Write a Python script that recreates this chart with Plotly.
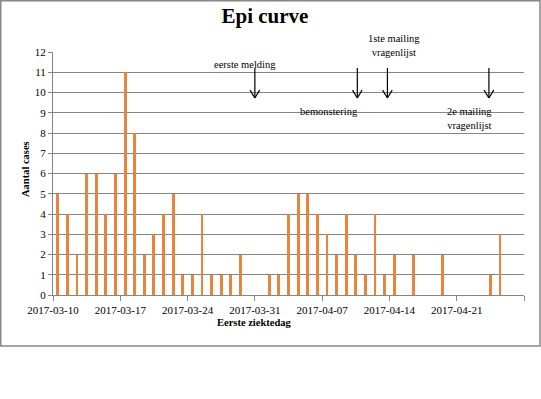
import plotly.graph_objects as go
from datetime import datetime, timedelta

# ---- data ----
dates = [
    "2017-03-10", "2017-03-11", "2017-03-12", "2017-03-13", "2017-03-14",
    "2017-03-15", "2017-03-16", "2017-03-17", "2017-03-18", "2017-03-19",
    "2017-03-20", "2017-03-21", "2017-03-22", "2017-03-23", "2017-03-24",
    "2017-03-25", "2017-03-26", "2017-03-27", "2017-03-28", "2017-03-29",
    "2017-04-01", "2017-04-02", "2017-04-03", "2017-04-04", "2017-04-05",
    "2017-04-06", "2017-04-07", "2017-04-08", "2017-04-09", "2017-04-10",
    "2017-04-11", "2017-04-12", "2017-04-13", "2017-04-14", "2017-04-16",
    "2017-04-19", "2017-04-24", "2017-04-25",
]
cases = [5, 4, 2, 6, 6, 4, 6, 11, 8, 2, 3, 4, 5, 1, 1, 4, 1, 1, 1, 2,
         1, 1, 4, 5, 5, 4, 3, 2, 4, 2, 1, 4, 1, 2, 2, 2, 1, 3]

event_labels = ["eerste melding", "bemonstering", "1ste mailing<br>vragenlijst", "2e mailing<br>vragenlijst"]
event_days = [21.0, 31.66, 34.79, 45.35]          # arrow positions, days after 2017-03-10
label_days = [19.96, 28.73, 35.52, 43.36]         # label centres
label_y = [11.36, 9.04, 12.32, 8.72]

base = datetime(2017, 3, 10)
def d(days):
    return (base + timedelta(days=days)).strftime("%Y-%m-%d %H:%M:%S")

# bars centred in the middle of each day (Excel date axis)
bar_x = [(datetime.strptime(s, "%Y-%m-%d") + timedelta(hours=12)).strftime("%Y-%m-%d %H:%M:%S") for s in dates]

GRID = "#868686"
FONT = "Liberation Serif"
Y0_PX, PX_PER_UNIT = 295, 243 / 12

fig = go.Figure()
fig.add_trace(go.Bar(
    x=bar_x, y=cases, width=0.3 * 86400000,
    marker=dict(color="#E9843C", line=dict(width=0)),
    hoverinfo="x+y",
))

shapes = []
for ed in event_days:
    shapes.append(dict(type="line", xref="x", yref="y", x0=d(ed), x1=d(ed), y0=11.21, y1=9.73,
                       line=dict(color="black", width=1.2)))
    shapes.append(dict(type="line", xref="x", yref="y", x0=d(ed - 0.5), x1=d(ed), y0=10.12, y1=9.73,
                       line=dict(color="black", width=1.2)))
    shapes.append(dict(type="line", xref="x", yref="y", x0=d(ed + 0.5), x1=d(ed), y0=10.12, y1=9.73,
                       line=dict(color="black", width=1.2)))

# outer chart border
shapes.append(dict(type="rect", xref="paper", yref="paper",
                   x0=(0.75 - 53) / 471, x1=(540 - 53) / 471,
                   y0=-(346 - 295) / 243, y1=(295 - 0.75) / 243,
                   line=dict(color="#888888", width=1.5), layer="below"))

annotations = []
for lab, ld, ly in zip(event_labels, label_days, label_y):
    # paper y so labels above the plot area are still drawn
    annotations.append(dict(text=lab, x=d(ld), y=ly / 12, xref="x", yref="paper", showarrow=False,
                            font=dict(family=FONT, size=10.5, color="black"),
                            xanchor="center", yanchor="middle", align="center"))

annotations.append(dict(text="<b>Eerste ziektedag</b>", xref="paper", yref="paper",
                        x=(254 - 53) / 471, y=-(322 - 295) / 243, showarrow=False,
                        xanchor="center", yanchor="middle",
                        font=dict(family=FONT, size=10.5, color="black")))
annotations.append(dict(text="<b>Aantal cases</b>", xref="paper", yref="paper",
                        x=(25 - 53) / 471, y=(295 - 169) / 243, showarrow=False, textangle=-90,
                        xanchor="center", yanchor="middle",
                        font=dict(family=FONT, size=10.5, color="black")))

fig.update_layout(
    width=541, height=399, autosize=False,
    margin=dict(l=53, r=17, t=52, b=104, autoexpand=False),
    paper_bgcolor="white", plot_bgcolor="white",
    showlegend=False,
    bargap=0,
    title=dict(text="<b>Epi curve</b>", x=265 / 541, xref="container", xanchor="center",
               y=1 - 16 / 399, yref="container", yanchor="middle",
               font=dict(family=FONT, size=21, color="black")),
    xaxis=dict(
        type="date", range=["2017-03-10", "2017-04-28"],
        tick0="2017-03-10", dtick=7 * 86400000, tickformat="%Y-%m-%d",
        showgrid=False, showline=True, linecolor=GRID, linewidth=1,
        ticks="outside", ticklen=5, tickcolor=GRID,
        tickfont=dict(family=FONT, size=11, color="black"),
        zeroline=False, automargin=False,
    ),
    yaxis=dict(
        range=[0, 12], dtick=1, tick0=0,
        showgrid=True, gridcolor=GRID, gridwidth=1,
        showline=True, linecolor=GRID, linewidth=1,
        ticks="outside", ticklen=4, tickcolor=GRID,
        tickfont=dict(family=FONT, size=11, color="black"),
        zeroline=False, automargin=False,
    ),
    shapes=shapes,
    annotations=annotations,
)

fig.write_html(
    "out.html",
    config={"responsive": False, "displayModeBar": False},
    post_script="document.body.style.margin='0';document.body.style.padding='0';",
)
